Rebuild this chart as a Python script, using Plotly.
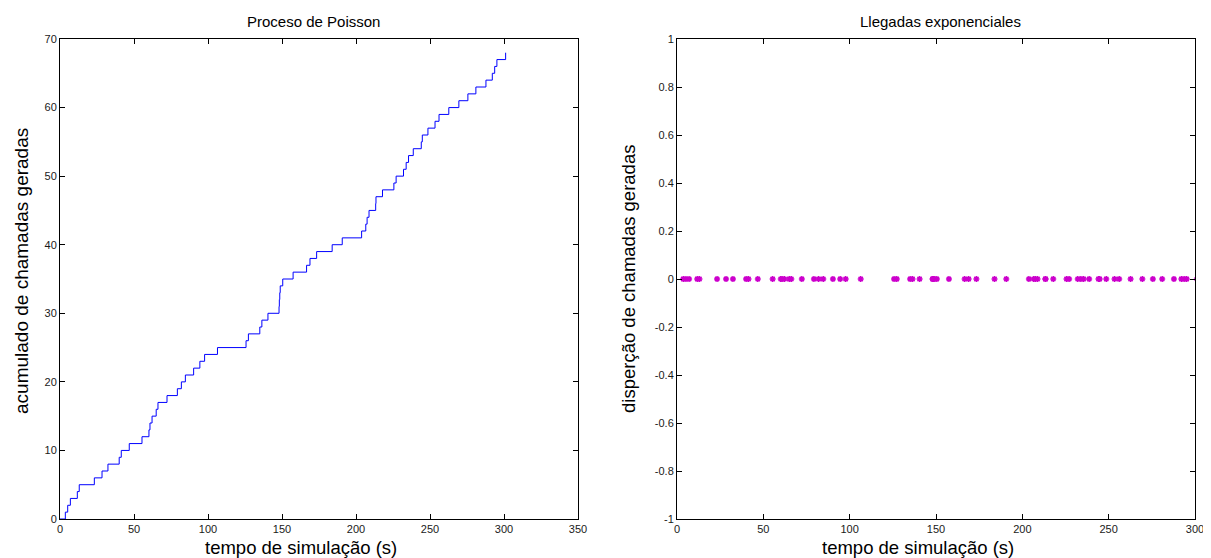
import plotly.graph_objects as go

# arrival times (s)
arrival_times = [3.6, 5.2, 7.0, 11.7, 13.0, 23.2, 28.4, 32.4, 40.0, 41.4, 46.8, 55.4,
                 60.1, 60.8, 62.2, 65.0, 66.2, 72.3, 79.3, 82.0, 84.7, 90.3, 94.5, 97.7,
                 106.4, 125.7, 127.3, 135.0, 136.4, 140.5, 148.0, 148.2, 148.5, 148.8,
                 150.5, 157.5, 166.6, 168.9, 173.4, 183.9, 190.7, 203.8, 206.6, 207.5,
                 208.8, 213.3, 213.5, 217.9, 225.6, 227.1, 232.1, 233.9, 235.5, 238.7,
                 244.1, 244.8, 248.6, 253.4, 256.1, 262.7, 269.5, 275.6, 281.0, 287.8,
                 292.1, 293.7, 295.2, 301.1]
# cumulative count after each arrival
cumulative = [1, 2, 3, 4, 5, 6, 7, 8, 9, 10, 11, 12, 13, 14, 15, 16, 17, 18, 19, 20,
              21, 22, 23, 24, 25, 26, 27, 28, 29, 30, 31, 32, 33, 34, 35, 36, 37, 38,
              39, 40, 41, 42, 43, 44, 45, 46, 47, 48, 49, 50, 51, 52, 53, 54, 55, 56,
              57, 58, 59, 60, 61, 62, 63, 64, 65, 66, 67, 68]
dispersion = [0] * len(arrival_times)

left_xticks = [0, 50, 100, 150, 200, 250, 300, 350]
left_yticks = [0, 10, 20, 30, 40, 50, 60, 70]
right_xticks = [0, 50, 100, 150, 200, 250, 300]
right_yticks = [-1, -0.8, -0.6, -0.4, -0.2, 0, 0.2, 0.4, 0.6, 0.8, 1]
right_ytext = ["-1", "-0.8", "-0.6", "-0.4", "-0.2", "0", "0.2", "0.4", "0.6", "0.8", "1"]

# the page body adds an 8px margin; the figure is sized/placed to compensate
OFF = 8
W, H = 1211 - OFF, 558 - OFF
FONT = "Liberation Sans, Arial, sans-serif"

fig = go.Figure()
fig.add_trace(go.Scatter(
    x=[0] + arrival_times, y=[0] + cumulative, mode="lines",
    line=dict(color="#0000ff", width=1, shape="hv"),
    xaxis="x", yaxis="y", showlegend=False))
fig.add_trace(go.Scatter(
    x=arrival_times, y=dispersion, mode="markers",
    marker=dict(symbol="asterisk-open", size=5, color="#cc00cc",
                line=dict(color="#cc00cc", width=1.5)),
    xaxis="x2", yaxis="y2", showlegend=False))

def px_x(p):
    return (p - OFF) / W

def px_y(p):
    return 1 - (p - OFF) / H

ydom = [px_y(519), px_y(39)]
axis_common = dict(showline=True, linecolor="#000000", linewidth=1, mirror="ticks",
                   ticks="inside", ticklen=5, tickcolor="#000000", showgrid=False,
                   zeroline=False, automargin=False,
                   tickfont=dict(family=FONT, size=11, color="#1a1a1a"))

fig.update_layout(
    width=W, height=H, margin=dict(l=0, r=0, t=0, b=0, autoexpand=False),
    paper_bgcolor="white", plot_bgcolor="white",
    xaxis=dict(domain=[px_x(60), px_x(578)], range=[0, 350], tickvals=left_xticks,
               anchor="y", **axis_common),
    yaxis=dict(domain=ydom, range=[0, 70], tickvals=left_yticks, anchor="x",
               **axis_common),
    xaxis2=dict(domain=[px_x(677), px_x(1195)], range=[0, 300], tickvals=right_xticks,
                anchor="y2", **axis_common),
    yaxis2=dict(domain=ydom, range=[-1, 1], tickvals=right_yticks, ticktext=right_ytext,
                anchor="x2", **axis_common),
)

ann = []
def add_text(text, x, y, size, angle=0):
    ann.append(dict(text=text, x=px_x(x), y=px_y(y), xref="paper", yref="paper",
                    showarrow=False, textangle=angle, xanchor="center", yanchor="middle",
                    font=dict(family=FONT, size=size, color="#000000")))

add_text("Proceso de Poisson", 313, 21, 15)
add_text("Llegadas exponenciales", 940, 21, 15)
add_text("tempo de simulação (s)", 301, 547, 18.5)
add_text("tempo de simulação (s)", 918, 547, 18.5)
add_text("acumulado de chamadas geradas", 21, 271, 19, -90)
add_text("disperção de chamadas geradas", 628, 279, 18.5, -90)
fig.update_layout(annotations=ann)

fig.write_html("out.html")
